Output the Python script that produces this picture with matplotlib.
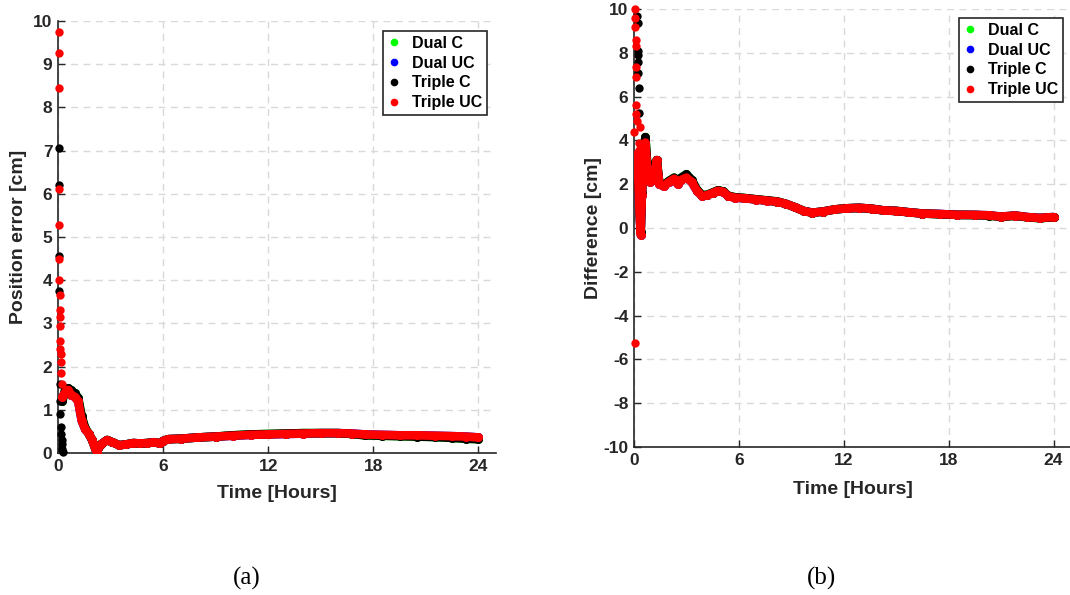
import matplotlib
matplotlib.use('Agg')
import matplotlib.pyplot as plt
from matplotlib.lines import Line2D

plt.rcParams['font.family'] = ['Liberation Sans', 'DejaVu Sans']
plt.rcParams['axes.unicode_minus'] = False

# ---------------- (a) position error ----------------
# first few epochs (scattered dots before convergence)
tc_a_burst_t = [0.05, 0.06, 0.07, 0.08, 0.10, 0.12, 0.14, 0.16, 0.18, 0.20, 0.22, 0.25, 0.28]
tc_a_burst_v = [7.05, 6.2, 4.55, 3.75, 1.6, 1.2, 0.9, 0.6, 0.45, 0.3, 0.2, 0.1, 0.02]
tuc_a_burst_t = [0.04, 0.04, 0.05, 0.06, 0.06, 0.07, 0.08, 0.09, 0.10, 0.11,
                 0.12, 0.13, 0.14, 0.15, 0.17, 0.19, 0.21, 0.23]
tuc_a_burst_v = [9.75, 9.25, 8.45, 6.1, 5.28, 4.5, 4.0, 3.66, 3.3, 3.15,
                 2.95, 2.6, 2.4, 2.3, 2.1, 1.85, 1.6, 1.3]

t_a = [0.25, 0.4, 0.57, 0.75, 0.95, 1.15, 1.35, 1.55, 1.75, 1.95, 2.2, 2.45, 2.8, 3.1,
       3.5, 3.9, 4.3, 4.7, 5.1, 5.5, 5.8, 6.0, 6.3, 7.0, 8.0, 9.0, 10.0, 11.0, 12.0,
       13.0, 14.0, 15.0, 16.0, 16.8, 17.5, 18.5, 19.5, 20.5, 21.5, 22.5, 23.3, 24.0]
triple_c_a = [1.2, 1.45, 1.5, 1.45, 1.38, 1.28, 0.85, 0.58, 0.45, 0.3, 0.02, 0.2, 0.3, 0.25,
              0.18, 0.2, 0.23, 0.22, 0.23, 0.25, 0.22, 0.28, 0.32, 0.33, 0.36, 0.38, 0.41,
              0.43, 0.44, 0.45, 0.46, 0.46, 0.46, 0.44, 0.41, 0.4, 0.39, 0.38, 0.37, 0.35,
              0.33, 0.32]
triple_uc_a = [1.3, 1.4, 1.46, 1.35, 1.3, 1.2, 0.75, 0.55, 0.45, 0.3, 0.02, 0.2, 0.3, 0.25,
               0.18, 0.2, 0.23, 0.22, 0.23, 0.25, 0.22, 0.28, 0.32, 0.33, 0.36, 0.38, 0.4,
               0.42, 0.43, 0.44, 0.45, 0.46, 0.46, 0.45, 0.43, 0.42, 0.41, 0.41, 0.4, 0.39,
               0.38, 0.36]
# dual-frequency solutions sit underneath the triple ones
dual_c_a = triple_c_a
dual_uc_a = triple_uc_a

# ---------------- (b) difference ----------------
tc_b_burst_t = [0.2, 0.21, 0.22, 0.23, 0.24, 0.25, 0.26, 0.27, 0.28, 0.3]
tc_b_burst_v = [9.7, 9.35, 8.1, 7.9, 7.6, 7.1, 6.4, 5.25, 2.5, 1.7]
tuc_b_burst_t = [0.06, 0.07, 0.08, 0.09, 0.1, 0.11, 0.12, 0.13, 0.14, 0.15, 0.0, 0.35, 0.3, 0.3, 0.05]
tuc_b_burst_v = [10.0, 9.6, 9.2, 8.6, 8.3, 7.35, 6.9, 5.6, 5.2, 4.9, 4.4, 4.6, 3.9, 3.55, -5.25]

t_b = [0.2, 0.3, 0.38, 0.45, 0.55, 0.65, 0.75, 0.9, 1.05, 1.2, 1.3, 1.45, 1.7, 2.0, 2.3,
       2.5, 2.7, 3.0, 3.3, 3.6, 3.9, 4.2, 4.5, 4.8, 5.1, 5.4, 5.8, 6.3, 7.0, 7.6, 8.2,
       8.7, 9.2, 9.7, 10.2, 10.8, 11.5, 12.2, 12.9, 13.6, 14.3, 15.0, 15.7, 16.5, 17.5,
       18.5, 19.5, 20.3, 21.0, 21.8, 22.5, 23.2, 24.0]
triple_c_b = [3.0, 1.2, -0.2, 1.6, 3.3, 4.15, 3.0, 2.2, 2.7, 2.3, 3.1, 2.05, 1.95, 2.15,
              2.3, 2.1, 2.3, 2.45, 2.2, 1.75, 1.5, 1.52, 1.62, 1.72, 1.67, 1.47, 1.4,
              1.37, 1.31, 1.26, 1.21, 1.1, 0.95, 0.78, 0.7, 0.75, 0.85, 0.9, 0.92, 0.88,
              0.8, 0.78, 0.72, 0.66, 0.63, 0.6, 0.59, 0.57, 0.51, 0.56, 0.49, 0.45, 0.49]
triple_uc_b = [3.4, 1.0, -0.3, 1.5, 3.0, 3.9, 2.8, 2.1, 2.6, 2.2, 3.1, 2.0, 1.9, 2.1,
               2.25, 2.0, 2.2, 2.3, 2.1, 1.7, 1.45, 1.5, 1.6, 1.7, 1.65, 1.45, 1.38,
               1.36, 1.3, 1.25, 1.2, 1.1, 0.95, 0.78, 0.7, 0.75, 0.85, 0.9, 0.92, 0.88,
               0.8, 0.78, 0.72, 0.66, 0.64, 0.6, 0.6, 0.58, 0.52, 0.57, 0.5, 0.46, 0.5]
dual_c_b = triple_c_b
dual_uc_b = triple_uc_b

series_names = ['Dual C', 'Dual UC', 'Triple C', 'Triple UC']
series_colors = ['#00ff00', '#0000ff', '#000000', '#ff0000']

dark = '#262626'
grid_col = '#d9d9d9'


def style_axes(ax, yticks, ylim, ylabel):
    ax.set_xlim(0, 25)
    ax.set_ylim(*ylim)
    ax.set_xticks([0, 6, 12, 18, 24])
    ax.set_yticks(yticks)
    for s in ['top', 'right']:
        ax.spines[s].set_visible(False)
    for s in ['left', 'bottom']:
        ax.spines[s].set_color(dark)
        ax.spines[s].set_linewidth(1.2)
    ax.tick_params(direction='in', length=5, width=1, colors=dark, labelsize=12.5, pad=4)
    for lab in ax.get_xticklabels() + ax.get_yticklabels():
        lab.set_fontweight('bold')
    ax.grid(True, color=grid_col, linestyle=(0, (5, 4)), linewidth=1)
    ax.set_axisbelow(True)
    ax.set_xlabel('Time [Hours]', fontsize=14, fontweight='bold', color=dark)
    ax.set_ylabel(ylabel, fontsize=14, fontweight='bold', color=dark)


def draw(ax, t, traces, bursts):
    for (vals, col), burst in zip(traces, bursts):
        if burst is not None:
            ax.plot(burst[0], burst[1], 'o', color=col, ms=6, mec='none', clip_on=False, zorder=3)
        ax.plot(t, vals, '-o', color=col, lw=6.2, ms=6.5, mec='none',
                solid_capstyle='round', solid_joinstyle='round', zorder=3)


def add_legend(ax, x, y):
    handles = [Line2D([0], [0], marker='o', ls='none', color=c, ms=4.5, label=n)
               for n, c in zip(series_names, series_colors)]
    leg = ax.legend(handles=handles, loc='upper right', bbox_to_anchor=(x / 1070, 1 - y / 595),
                    bbox_transform=fig.transFigure, borderaxespad=0, fancybox=False,
                    framealpha=1, edgecolor=dark, handlelength=0.8, handletextpad=0.7,
                    borderpad=0.3, labelspacing=0.3,
                    prop={'size': 11.5, 'weight': 'bold'})
    leg.get_frame().set_linewidth(1.2)
    for txt in leg.get_texts():
        txt.set_color('black')


fig = plt.figure(figsize=(10.7, 5.95), dpi=100)
ax1 = fig.add_axes([58 / 1070, 1 - 453 / 595, 438 / 1070, 432 / 595])
ax2 = fig.add_axes([634 / 1070, 1 - 447 / 595, 437 / 1070, 438 / 595])

draw(ax1, t_a,
     [(dual_c_a, series_colors[0]), (dual_uc_a, series_colors[1]),
      (triple_c_a, series_colors[2]), (triple_uc_a, series_colors[3])],
     [None, None, (tc_a_burst_t, tc_a_burst_v), (tuc_a_burst_t, tuc_a_burst_v)])
style_axes(ax1, range(0, 11), (0, 10), 'Position error [cm]')
ax1.yaxis.set_label_coords(-0.071, 0.5)
ax1.xaxis.set_label_coords(0.5, -0.074)
add_legend(ax1, 487, 31)

draw(ax2, t_b,
     [(dual_c_b, series_colors[0]), (dual_uc_b, series_colors[1]),
      (triple_c_b, series_colors[2]), (triple_uc_b, series_colors[3])],
     [None, None, (tc_b_burst_t, tc_b_burst_v), (tuc_b_burst_t, tuc_b_burst_v)])
style_axes(ax2, range(-10, 11, 2), (-10, 10), 'Difference [cm]')
ax2.yaxis.set_label_coords(-0.073, 0.5)
ax2.xaxis.set_label_coords(0.5, -0.078)
add_legend(ax2, 1063, 18)

fig.text(247 / 1070, 1 - 578 / 595, '(a)', family='Liberation Serif', fontsize=18,
         ha='center', va='center')
fig.text(822 / 1070, 1 - 578 / 595, '(b)', family='Liberation Serif', fontsize=18,
         ha='center', va='center')

fig.savefig('out.png', dpi=100, facecolor='white')
